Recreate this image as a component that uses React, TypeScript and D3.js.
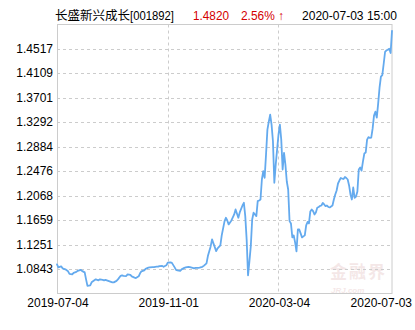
import React from "react";
import * as d3 from "d3";

const fundName = "长盛新兴成长";
const fundCode = "[001892]";
const lastNav = "1.4820";
const lastChange = "2.56% ↑";
const lastTime = "2020-07-03 15:00";

const yTickLabels = ["1.0843", "1.1251", "1.1659", "1.2068", "1.2476", "1.2884", "1.3292", "1.3701", "1.4109", "1.4517"];
const xTickLabels = ["2019-07-04", "2019-11-01", "2020-03-04", "2020-07-03"];
const xTickDays = [0, 80, 160, 242];

const tradeDay = [
  0, 1, 3, 4, 6, 8, 9, 11, 12, 14, 15, 17, 18, 20, 21, 22, 24, 25, 27, 28,
  30, 31, 33, 34, 35, 37, 38, 40, 41, 43, 44, 46, 47, 48, 50, 51, 53, 54, 56, 57,
  59, 60, 61, 63, 64, 66, 67, 69, 70, 72, 73, 74, 76, 77, 79, 80, 82, 83, 85, 86,
  87, 89, 90, 92, 93, 95, 96, 98, 99, 100, 102, 103, 105, 106, 108, 109, 111, 112, 113, 115,
  116, 118, 119, 121, 122, 123, 124, 125, 126, 128, 129, 131, 132, 134, 135, 136, 137, 138, 139, 140,
  141, 142, 144, 145, 146, 147, 148, 149, 150, 151, 152, 153, 154, 155, 156, 157, 158, 159, 160, 161,
  162, 163, 164, 165, 166, 167, 168, 169, 170, 171, 172, 173, 174, 175, 176, 177, 178, 179, 180, 181,
  182, 183, 184, 185, 186, 187, 188, 189, 190, 191, 192, 193, 194, 195, 196, 197, 198, 199, 200, 201,
  202, 203, 204, 205, 206, 207, 208, 209, 210, 211, 212, 213, 214, 215, 216, 217, 218, 219, 220, 221,
  222, 223, 224, 225, 226, 227, 228, 229, 230, 231, 232, 233, 234, 235, 236, 237, 238, 239, 240, 241,
  242,
];

const nav = [
  1.0921, 1.0871, 1.0888, 1.0855, 1.0838, 1.0805, 1.0763, 1.0755, 1.078, 1.0796, 1.0813, 1.083, 1.0813, 1.0788, 1.0671, 1.0563, 1.0571, 1.0621, 1.0655, 1.0671,
  1.0655, 1.0671, 1.0663, 1.0655, 1.0663, 1.0646, 1.0638, 1.0621, 1.0621, 1.0646, 1.0671, 1.073, 1.0738, 1.073, 1.0726, 1.0755, 1.0746, 1.0721, 1.07, 1.0693,
  1.0721, 1.0771, 1.0805, 1.0821, 1.0846, 1.0866, 1.0871, 1.0876, 1.0876, 1.0883, 1.0883, 1.0893, 1.0896, 1.088, 1.0905, 1.095, 1.0955, 1.0946, 1.0871, 1.083,
  1.0821, 1.0813, 1.0838, 1.0863, 1.0871, 1.088, 1.0876, 1.0863, 1.0855, 1.0863, 1.0863, 1.0866, 1.088, 1.0896, 1.0938, 1.106, 1.1221, 1.1338, 1.1271, 1.1143,
  1.1188, 1.1238, 1.1405, 1.1638, 1.1699, 1.1654, 1.1588, 1.1621, 1.1654, 1.1754, 1.1838, 1.1699, 1.1788, 1.1904, 1.1949, 1.1726, 1.1338, 1.0738, 1.0971, 1.1226,
  1.1671, 1.1783, 1.1726, 1.1976, 1.1988, 1.2004, 1.2338, 1.2476, 1.2366, 1.2754, 1.3171, 1.3304, 1.3421, 1.3254, 1.2976, 1.2283, 1.2587, 1.2837, 1.3087, 1.3254,
  1.3004, 1.2504, 1.2782, 1.2587, 1.2304, 1.2171, 1.1643, 1.1604, 1.1371, 1.1405, 1.1288, 1.1138, 1.1504, 1.1504, 1.1438, 1.1371, 1.1388, 1.1405, 1.1571, 1.1629,
  1.1604, 1.1804, 1.1838, 1.1809, 1.1754, 1.1788, 1.1866, 1.1879, 1.1896, 1.1904, 1.1946, 1.1921, 1.1893, 1.1904, 1.1879, 1.1871, 1.1888, 1.1904, 1.2004, 1.2088,
  1.2154, 1.2271, 1.2321, 1.2363, 1.2354, 1.2346, 1.2379, 1.2363, 1.2338, 1.2238, 1.2088, 1.2004, 1.2204, 1.2033, 1.2054, 1.2138, 1.2504, 1.2537, 1.2487, 1.2637,
  1.2771, 1.2787, 1.3004, 1.3046, 1.3032, 1.3037, 1.3187, 1.3404, 1.347, 1.3371, 1.3604, 1.387, 1.4054, 1.4079, 1.427, 1.447, 1.4495, 1.4503, 1.452, 1.445,
  1.482,
];

const W = 415;
const H = 330;
const M = { left: 57, right: 392, top: 24.5, bottom: 293.5 };

const latin = "'Liberation Sans', Arial, sans-serif";
const cjk = "'Noto Sans CJK SC', sans-serif";

export default function App() {
  const yVals = yTickLabels.map(Number);
  const step = (yVals[yVals.length - 1] - yVals[0]) / (yVals.length - 1);
  const y = d3
    .scaleLinear()
    .domain([yVals[0] - step, yVals[yVals.length - 1] + step])
    .range([M.bottom, M.top]);
  const x = d3.scaleLinear().domain([0, xTickDays[xTickDays.length - 1]]).range([M.left, M.right]);

  const points = tradeDay.map((d, i) => [d, nav[i]] as [number, number]);
  const line = d3
    .line<[number, number]>()
    .x((d) => x(d[0]))
    .y((d) => y(d[1]))
    .curve(d3.curveLinear);

  return (
    <svg width={W} height={H} style={{ position: "absolute", left: 0, top: 0, background: "#fff" }}>
      <rect x={0} y={0} width={W} height={H} fill="#fff" />
      {/* title */}
      <text x={55} y={20} fontFamily={cjk} fontSize={12.5} fill="#000">
        {fundName}
      </text>
      <text x={130} y={20} fontFamily={latin} fontSize={12} fill="#000" textLength={44} lengthAdjust="spacingAndGlyphs">
        {fundCode}
      </text>
      <text x={193} y={20} fontFamily={latin} fontSize={12} fill="#d40000" textLength={36} lengthAdjust="spacingAndGlyphs">
        {lastNav}
      </text>
      <text x={241} y={20} fontFamily={latin} fontSize={12} fill="#d40000" textLength={43} lengthAdjust="spacingAndGlyphs">
        {lastChange}
      </text>
      <text x={302} y={20} fontFamily={latin} fontSize={12} fill="#000" textLength={95} lengthAdjust="spacingAndGlyphs">
        {lastTime}
      </text>

      {/* watermark */}
      <g opacity={0.16}>
        <text x={330} y={278} fontFamily={cjk} fontSize={17} fontWeight="bold" fill="#c07070" letterSpacing={2}>
          金融界
        </text>
        <text x={331} y={293} fontFamily={latin} fontSize={8} fontStyle="italic" fontWeight="bold" fill="#c07070">
          JRJ.com
        </text>
      </g>

      {/* horizontal grid */}
      {yVals.map((v, i) => (
        <line
          key={"hg" + i}
          x1={M.left}
          x2={M.right}
          y1={Math.round(y(v)) + 0.5}
          y2={Math.round(y(v)) + 0.5}
          stroke="#cccccc"
          strokeDasharray="3,3"
          strokeWidth={1}
        />
      ))}
      {/* vertical grid */}
      {xTickDays.slice(1, -1).map((d, i) => (
        <line
          key={"vg" + i}
          x1={Math.round(x(d)) + 0.5}
          x2={Math.round(x(d)) + 0.5}
          y1={M.top}
          y2={M.bottom}
          stroke="#cccccc"
          strokeDasharray="3,3"
          strokeWidth={1}
        />
      ))}
      {/* frame */}
      <rect
        x={M.left + 0.5}
        y={M.top}
        width={M.right - M.left - 0.5}
        height={M.bottom - M.top}
        fill="none"
        stroke="#cccccc"
        strokeWidth={1}
      />

      {/* y labels */}
      {yTickLabels.map((t, i) => (
        <text
          key={"yl" + i}
          x={53}
          y={y(yVals[i]) + 4}
          textAnchor="end"
          fontFamily={latin}
          fontSize={12}
          fill="#000"
        >
          {t}
        </text>
      ))}
      {/* x labels */}
      {xTickLabels.map((t, i) => {
        const last = i === xTickLabels.length - 1;
        return (
          <text
            key={"xl" + i}
            x={last ? 412 : x(xTickDays[i]) + 1}
            y={307}
            textAnchor={last ? "end" : "middle"}
            fontFamily={latin}
            fontSize={12}
            fill="#000"
          >
            {t}
          </text>
        );
      })}

      {/* line */}
      <path
        d={line(points) || ""}
        fill="none"
        stroke="#64aaee"
        strokeWidth={1.8}
        strokeLinejoin="round"
        strokeLinecap="round"
      />
    </svg>
  );
}
